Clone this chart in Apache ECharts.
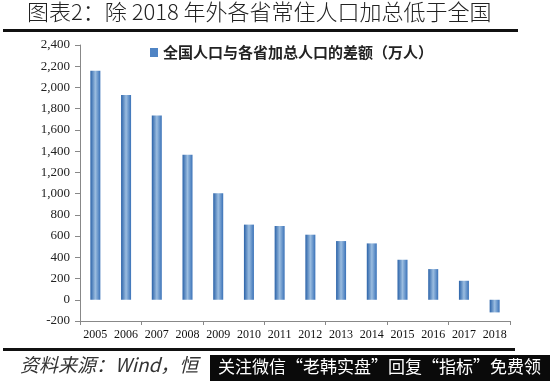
<!DOCTYPE html>
<html><head><meta charset="utf-8">
<script src="https://cdn.jsdelivr.net/npm/echarts@6/dist/echarts.min.js"></script>
<style>html,body{margin:0;padding:0;background:#fff}#c{width:550px;height:381px}</style>
</head><body><div id="c"></div>
<script>
const categories = ['2005','2006','2007','2008','2009','2010','2011','2012','2013','2014','2015','2016','2017','2018'];
const diffValues = [2157, 1928, 1736, 1365, 1003, 708, 695, 613, 553, 531, 377, 289, 179, -119];
const seriesName = '全国人口与各省加总人口的差额（万人）';
const titleText = '图表2：除 2018 年外各省常住人口加总低于全国';
const sourceText = '资料来源：Wind，恒';
const overlayText = '关注微信“老韩实盘”回复“指标”免费领';

const chart = echarts.init(document.getElementById('c'));
const barColor = new echarts.graphic.LinearGradient(0,0,1,0,[
  {offset:0,color:'#2a62a8'},{offset:0.5,color:'#9bbde0'},{offset:1,color:'#3a72b8'}]);
chart.setOption({
  animation:false,
  grid:{left:80,right:40,top:45,bottom:60},
  legend:{show:true,top:40,left:145,itemWidth:8,itemHeight:9,itemGap:4,
    icon:'rect',
    textStyle:{fontFamily:'Noto Sans CJK SC',fontWeight:'bold',fontSize:15,color:'#222'},
    data:[{name:seriesName,itemStyle:{color:'#4f84c4'}}]},
  xAxis:[{type:'category',data:categories,position:'bottom',
      axisLine:{show:false},axisTick:{show:false},
      axisLabel:{fontFamily:'Liberation Serif',fontSize:12,color:'#111',margin:8,interval:0}},
    {type:'category',data:categories,position:'bottom',
      axisLine:{onZero:true,lineStyle:{color:'#888'}},
      axisTick:{show:true,length:4,inside:false,lineStyle:{color:'#888'}},
      axisLabel:{show:false}}],
  yAxis:{type:'value',min:-200,max:2400,interval:200,
    axisLine:{show:true,lineStyle:{color:'#888'}},
    axisTick:{show:true,length:5,lineStyle:{color:'#888'}},
    splitLine:{show:false},
    axisLabel:{fontFamily:'Liberation Serif',fontSize:13,color:'#222',margin:10,
      formatter:v=>v.toLocaleString('en-US')}},
  series:[{name:seriesName,type:'bar',data:diffValues,barWidth:10,
    itemStyle:{color:barColor}}],
  graphic:[
    {type:'text',left:27,top:1,style:{text:titleText,fontFamily:'Noto Sans CJK SC',fontWeight:300,fontSize:22,fill:'#222'}},
    {type:'rect',shape:{x:3,y:29,width:515,height:3},style:{fill:'#111'}},
    {type:'rect',shape:{x:3,y:348,width:512,height:3},style:{fill:'#111'}},
    {type:'text',left:20,top:355,style:{text:sourceText,fontFamily:'Noto Sans CJK SC',fontStyle:'italic',fontSize:19,fill:'#333'}},
    {type:'rect',shape:{x:210,y:355,width:340,height:26},style:{fill:'#0a0a0a'}},
    {type:'text',left:218,top:358,style:{text:overlayText,fontFamily:'Noto Sans CJK SC',fontSize:17,fill:'#fff'}}
  ]
});
</script></body></html>
